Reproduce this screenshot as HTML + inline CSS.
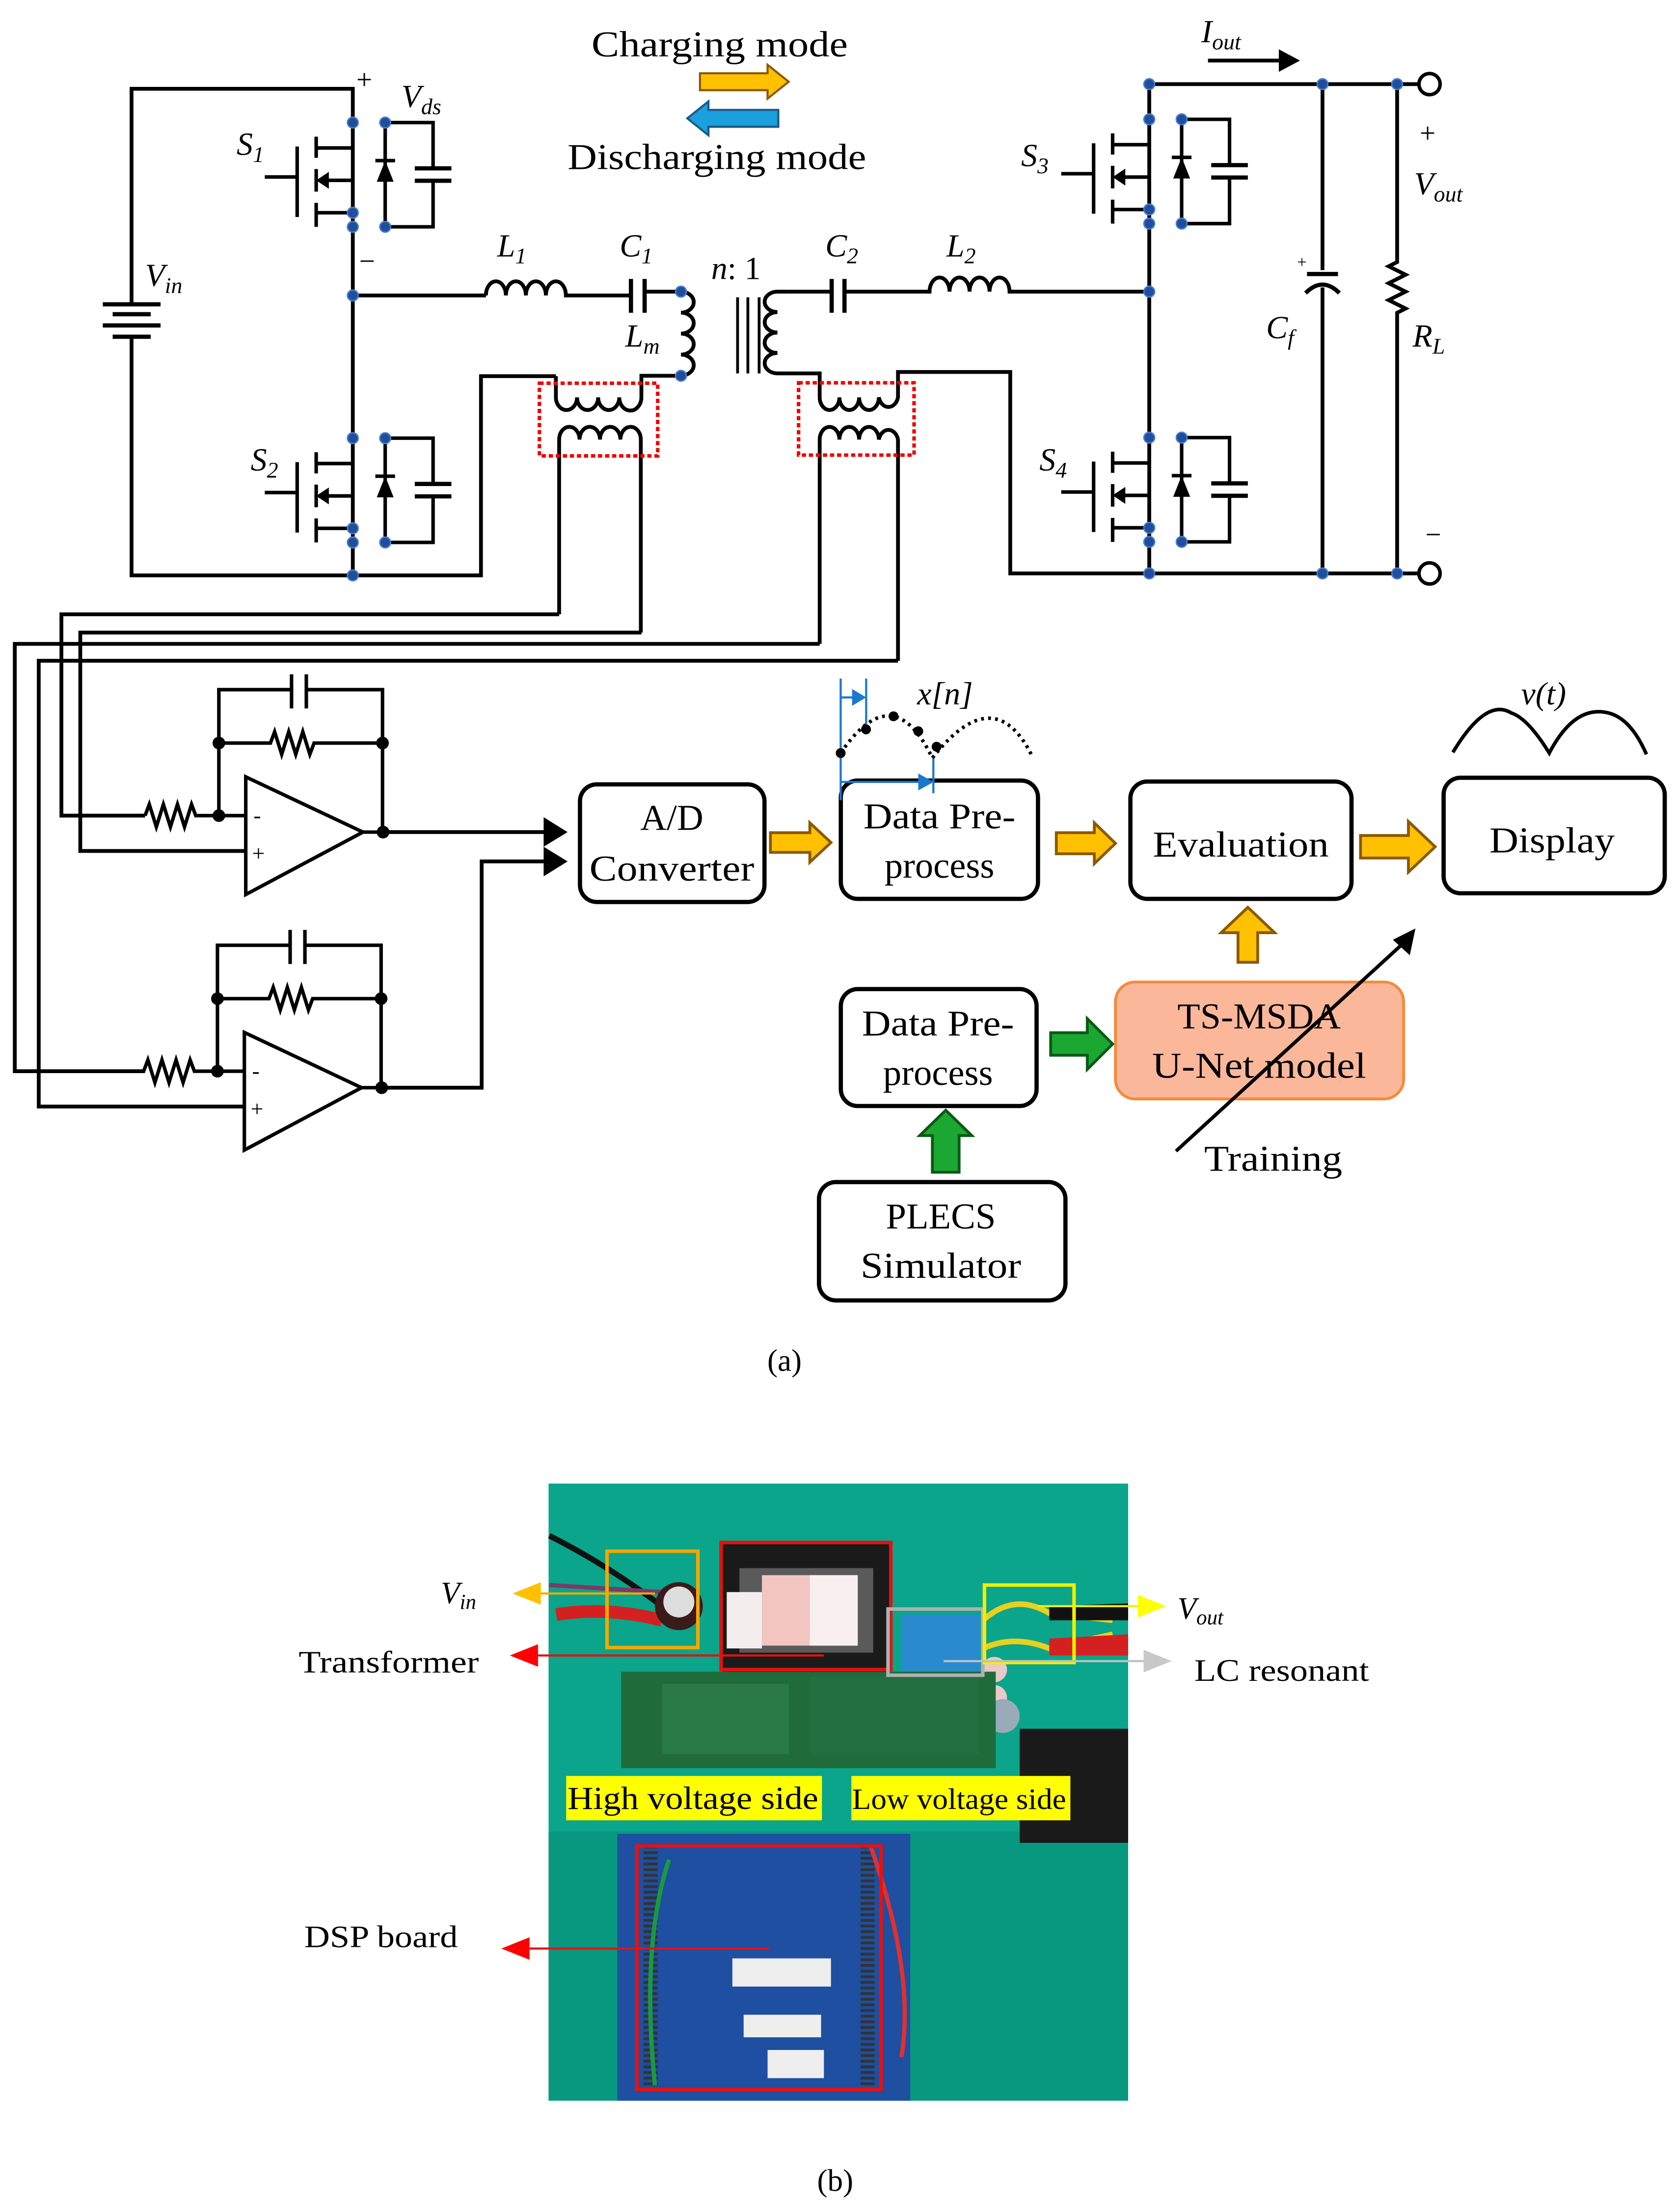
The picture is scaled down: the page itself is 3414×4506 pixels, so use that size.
<!DOCTYPE html>
<html><head><meta charset="utf-8"><style>
html,body{margin:0;padding:0;background:#fff}
svg{display:block}
text{font-family:"Liberation Serif",serif;fill:#000}
</style></head><body>
<svg width="3414" height="4506" viewBox="0 0 1190 1570" preserveAspectRatio="none" xmlns="http://www.w3.org/2000/svg">
<defs>
<g id="sw">
  <path d="M23,0 H57 V32.5 M57,41.3 V74 H23 M23,0 V74" fill="none" stroke="#000" stroke-width="2.5"/>
  <path d="M44,32.5 H70 M44,41.3 H70" stroke="#000" stroke-width="3"/>
  <path d="M17,42 L29,42 L23,27 Z" fill="#000"/>
  <path d="M16,27 H30" stroke="#000" stroke-width="2.5"/>
  <path d="M-26,18 H0 M-26,64 H0 M-20,41 H0 V64 M-39.5,17 V67 M-62.5,38.6 H-39.5 M-26,10 V25 M-26,33 V49 M-26,57 V74" fill="none" stroke="#000" stroke-width="2.5"/>
  <path d="M-26,41 L-17,35 L-17,47 Z" fill="#000"/>
  <g fill="#1f4e9a" stroke="#4a7bd0" stroke-width="1"><circle cx="0" cy="0" r="3.8"/><circle cx="23" cy="0" r="3.8"/><circle cx="0" cy="64" r="3.8"/><circle cx="0" cy="74" r="3.8"/><circle cx="23" cy="74" r="3.8"/></g>
</g>
<g id="opamp">
  <path d="M174.5,551.4 V634.9 L257.7,590.6 Z" fill="none" stroke="#000" stroke-width="2.5"/>
  <path d="M154,578.9 H174.5 M257.7,590.6 H272 M155.4,578.9 V527.4 H192 l3,-8 l5,16 l5,-16 l5,16 l5,-16 l5,16 l3,-8 H271.6 V590.6 M155.4,527.4 V489.5 H207 M217.5,489.5 H271.6 V527.4 M207,478.6 V502.8 M217.5,478.6 V502.8 M103,578.9 l3,-8 l5,16 l5,-16 l5,16 l5,-16 l5,16 l5,-16 l3,8 H154" fill="none" stroke="#000" stroke-width="2.5"/>
  <circle cx="155.4" cy="578.9" r="4.5"/><circle cx="155.4" cy="527.4" r="4.5"/><circle cx="271.6" cy="527.4" r="4.5"/><circle cx="272" cy="590.6" r="4.5"/>
  <text x="180" y="584" font-size="16" font-family="Liberation Sans">-</text>
  <text x="179" y="611" font-size="16" font-family="Liberation Sans">+</text>
</g>
</defs>

<g fill="none" stroke="#000" stroke-width="2.7">
  <path d="M93.4,216 V63 H250.5 V408.4 M93.4,239 V408.4 H341.5 V267 H394.7"/>
  <path d="M250.5,209.7 H345"/>
  <path d="M345,209.7 a7.1,10 0 0 1 14.2,0 a7.1,10 0 0 1 14.2,0 a7.1,10 0 0 1 14.2,0 a7.1,10 0 0 1 14.2,0 H448 M457.7,207 H483.5"/>
  <path d="M448,198 V222 M457.7,198 V222" stroke-width="3"/>
  <path d="M483.5,207 a9,7.4 0 0 1 0,14.9 a9,7.4 0 0 1 0,14.9 a9,7.4 0 0 1 0,14.9 a9,7.4 0 0 1 0,14.9"/>
  <path d="M523.7,211 V265 M531,211 V265 M539,211 V265" stroke-width="2"/>
  <path d="M560,207 H552 a9,7.2 0 0 0 0,14.5 a9,7.2 0 0 0 0,14.5 a9,7.2 0 0 0 0,14.5 a9,7.2 0 0 0 0,14.5 H582 V282"/>
  <path d="M560,207 H590.5 M599.6,207 H660 a7.1,10 0 0 1 14.2,0 a7.1,10 0 0 1 14.2,0 a7.1,10 0 0 1 14.2,0 a7.1,10 0 0 1 14.2,0 H816"/>
  <path d="M590.5,198 V222 M599.6,198 V222" stroke-width="3"/>
  <path d="M394.7,267 V282 a7.5,9 0 0 0 15,0 a7.5,9 0 0 0 15,0 a7.5,9 0 0 0 15,0 a7.5,9 0 0 0 15.7,0 V266.7 H483.5"/>
  <path d="M397,436 V312 a7.2,9 0 0 1 14.5,0 a7.2,9 0 0 1 14.5,0 a7.2,9 0 0 1 14.5,0 a7.2,9 0 0 1 14.5,0 V449"/>
  <path d="M582,282 a7,9 0 0 0 14,0 a7,9 0 0 0 14,0 a7,9 0 0 0 14,0 a7,9 0 0 0 13.6,0 V264 H717.3 V407 H816"/>
  <path d="M582,457 V312 a7,9 0 0 1 14,0 a7,9 0 0 1 14,0 a7,9 0 0 1 14,0 a7,9 0 0 1 13.6,0 V469"/>
  <path d="M816,59.7 V407 M816,59.7 H1008 M816,407 H1008"/>
  <path d="M939,59.7 V191.7 M939,204 V407"/>
  <path d="M928,194.5 H950" stroke-width="3"/>
  <path d="M927,208 Q939,196 951,208" stroke-width="3"/>
  <path d="M992,59.7 V186 l-6,3 l12,6 l-12,6 l12,6 l-12,6 l12,6 l-6,3 V407"/>
  <path d="M857.7,43 H910"/>
  <path d="M397,436 H43.6 V578.9 H103"/>
  <path d="M455.4,449 H57 V604 H174.5"/>
  <path d="M582,457 H10.5 V760.3 H103"/>
  <path d="M637.6,469 H27.5 V785.4 H174.5"/>
  <path d="M272,590.6 H388 M272,772 H342 V611.4 H388"/>
</g>
<g stroke="#000" stroke-width="3">
  <path d="M73,216 H114 M80,223 H107 M73,231 H114 M80,239 H107"/>
</g>
<circle cx="1015" cy="59.7" r="7.5" fill="#fff" stroke="#000" stroke-width="2.5"/>
<circle cx="1015" cy="407" r="7.5" fill="#fff" stroke="#000" stroke-width="2.5"/>
<path d="M908,35 L923,43 L908,51 Z"/>
<rect x="383" y="272" width="84" height="51.6" fill="none" stroke="#e00" stroke-width="2.5" stroke-dasharray="3,2"/>
<rect x="567" y="271.7" width="82" height="51.3" fill="none" stroke="#e00" stroke-width="2.5" stroke-dasharray="3,2"/>
<use href="#sw" transform="translate(250.5,87)"/>
<use href="#sw" transform="translate(250.5,311)"/>
<use href="#sw" transform="translate(816,84.7)"/>
<use href="#sw" transform="translate(816,310.6)"/>
<g fill="#1f4e9a" stroke="#4a7bd0" stroke-width="1">
  <circle cx="250.5" cy="209.7" r="3.8"/><circle cx="250.5" cy="408.4" r="3.8"/>
  <circle cx="483.5" cy="207" r="3.8"/><circle cx="483.5" cy="266.7" r="3.8"/>
  <circle cx="816" cy="207" r="3.8"/><circle cx="816" cy="59.7" r="3.8"/><circle cx="816" cy="407" r="3.8"/>
  <circle cx="939" cy="59.7" r="3.8"/><circle cx="992" cy="59.7" r="3.8"/>
  <circle cx="939" cy="407" r="3.8"/><circle cx="992" cy="407" r="3.8"/>
</g>
<g font-style="italic" font-size="23">
  <text x="103" y="203">V<tspan font-size="16" dy="5">in</tspan></text>
  <text x="168" y="110">S<tspan font-size="16" dy="5">1</tspan></text>
  <text x="178" y="334">S<tspan font-size="16" dy="5">2</tspan></text>
  <text x="725" y="118">S<tspan font-size="16" dy="5">3</tspan></text>
  <text x="738" y="334">S<tspan font-size="16" dy="5">4</tspan></text>
  <text x="285" y="76">V<tspan font-size="16" dy="5">ds</tspan></text>
  <text x="353" y="182">L<tspan font-size="16" dy="5">1</tspan></text>
  <text x="440" y="182">C<tspan font-size="16" dy="5">1</tspan></text>
  <text x="586" y="182">C<tspan font-size="16" dy="5">2</tspan></text>
  <text x="672" y="182">L<tspan font-size="16" dy="5">2</tspan></text>
  <text x="444" y="246">L<tspan font-size="16" dy="5">m</tspan></text>
  <text x="505" y="198">n<tspan font-style="normal">: 1</tspan></text>
  <text x="853" y="30">I<tspan font-size="16" dy="5">out</tspan></text>
  <text x="1004" y="138">V<tspan font-size="16" dy="5">out</tspan></text>
  <text x="899" y="240">C<tspan font-size="16" dy="5">f</tspan></text>
  <text x="1003" y="246">R<tspan font-size="16" dy="5">L</tspan></text>
</g>
<g font-size="20" font-family="Liberation Sans">
  <text x="253" y="63">+</text><text x="255" y="192">−</text>
  <text x="1008" y="101">+</text><text x="1012" y="386">−</text>
  <text x="921" y="190" font-size="12">+</text>
</g>
<text x="420" y="40" font-size="26" textLength="182" lengthAdjust="spacingAndGlyphs">Charging mode</text>
<text x="403" y="120" font-size="26" textLength="212" lengthAdjust="spacingAndGlyphs">Discharging mode</text>
<path d="M497,52 H545 V46 L560,58 L545,70 V64 H497Z" fill="#ffc000" stroke="#8a5a00" stroke-width="1.5"/>
<path d="M552.6,78 H503 V72 L488,84 L503,96 V90 H552.6Z" fill="#1aa0dc" stroke="#1a5a8a" stroke-width="1.5"/>

<use href="#opamp"/>
<use href="#opamp" transform="translate(-1,181.4)"/>
<path d="M386,580 L403,590.6 L386,601 Z M386,601 L403,611.4 L386,622 Z"/>

<g fill="none" stroke="#000" stroke-width="3">
  <rect x="411.8" y="556.7" width="131" height="83.5" rx="12"/>
  <rect x="597" y="554" width="140" height="84" rx="12"/>
  <rect x="802.6" y="554.7" width="157" height="83.3" rx="12"/>
  <rect x="1025" y="552" width="157" height="82" rx="12"/>
  <rect x="597" y="702" width="139" height="83" rx="12"/>
  <rect x="581.5" y="839" width="175" height="84" rx="12"/>
</g>
<rect x="792" y="697" width="204.6" height="83" rx="14" fill="#fbb79a" stroke="#f58a3a" stroke-width="2"/>
<g font-size="26" text-anchor="middle">
  <text x="477" y="589">A/D</text><text x="477" y="625" textLength="117" lengthAdjust="spacingAndGlyphs">Converter</text>
  <text x="667" y="588" textLength="108" lengthAdjust="spacingAndGlyphs">Data Pre-</text><text x="667" y="623">process</text>
  <text x="881" y="608" textLength="125" lengthAdjust="spacingAndGlyphs">Evaluation</text>
  <text x="1102" y="605" textLength="89" lengthAdjust="spacingAndGlyphs">Display</text>
  <text x="666" y="735" textLength="108" lengthAdjust="spacingAndGlyphs">Data Pre-</text><text x="666" y="770">process</text>
  <text x="894" y="730" textLength="116" lengthAdjust="spacingAndGlyphs">TS-MSDA</text><text x="894" y="765" textLength="152" lengthAdjust="spacingAndGlyphs">U-Net model</text>
  <text x="668" y="872">PLECS</text><text x="668" y="907" textLength="114" lengthAdjust="spacingAndGlyphs">Simulator</text>
  <text x="904" y="831" textLength="98" lengthAdjust="spacingAndGlyphs">Training</text>
  <text x="557" y="973" font-size="22">(a)</text>
  <text x="593" y="1555" font-size="22">(b)</text>
</g>
<g fill="#ffc000" stroke="#8a5a00" stroke-width="2">
  <path d="M547,591 H575 V584 L590,598 L575,612 V605 H547Z"/>
  <path d="M750,591 H777 V584 L792,598.6 L777,613 V606 H750Z"/>
  <path d="M966,593 H1000 V583 L1019,601 L1000,619 V609 H966Z"/>
  <path d="M879,683 V662 H867 L886,644 L905,662 H893 V683Z"/>
</g>
<g fill="#1aa832" stroke="#0a5a14" stroke-width="2">
  <path d="M746,733 H772 V723 L790,741 L772,759 V749 H746Z"/>
  <path d="M662,832 V806 H653 L671.5,788 L690,806 H681 V832Z"/>
</g>
<path d="M835,817 L998,668" stroke="#000" stroke-width="2.5"/>
<path d="M1005,659 L1001,678 L989,667 Z"/>
<text x="671" y="500" font-size="23" font-style="italic" text-anchor="middle">x[n]</text>
<g stroke="#1a78d0" stroke-width="1.5" fill="none">
  <path d="M596.9,481.6 V568 M615,481.6 V515 M662.7,537 V563 M596.9,495 H612 M596.9,555 H660"/>
</g>
<path d="M615,495 L605,489 L605,501 Z M663,555 L652,549 L652,561 Z" fill="#1a78d0"/>
<path d="M596.9,534.5 Q634,480 662,538 Q706,482 733,537" fill="none" stroke="#000" stroke-width="2.5" stroke-dasharray="2,3"/>
<g><circle cx="596.9" cy="534.5" r="3.5"/><circle cx="614.9" cy="517.7" r="3.5"/><circle cx="634.4" cy="508.4" r="3.5"/><circle cx="652" cy="519" r="3.5"/><circle cx="665" cy="530" r="3.5"/></g>
<text x="1096" y="500" font-size="23" font-style="italic" text-anchor="middle">v(t)</text>
<path d="M1031.6,534 Q1055,495 1073,506 Q1085,510 1100,534.5 Q1118,500 1142,506 Q1158,510 1169,535.4" fill="none" stroke="#000" stroke-width="2.5"/>

<rect x="389.5" y="1053" width="411.5" height="438" fill="#0aa58a"/>
<rect x="389.5" y="1300" width="411.5" height="191" fill="#079079" opacity="0.6"/>
<path d="M390,1090 Q430,1110 470,1140" stroke="#111" stroke-width="4" fill="none"/>
<path d="M390,1125 L470,1130" stroke="#7a3a6a" stroke-width="3" fill="none"/>
<path d="M395,1146 Q430,1140 470,1150" stroke="#d42020" stroke-width="9" fill="none"/>
<circle cx="482" cy="1140" r="17" fill="#3a1a1a"/><circle cx="482" cy="1137" r="11" fill="#ddd"/>
<rect x="513" y="1096" width="119" height="91" fill="#1a1a1a"/>
<rect x="525" y="1113" width="95" height="60" fill="#5a5a5a"/>
<rect x="541" y="1118" width="68" height="50" fill="#f2c5c0"/>
<rect x="575" y="1118" width="34" height="50" fill="#f8f0f0"/>
<rect x="516" y="1130" width="25" height="40" fill="#f4eded"/>
<rect x="640" y="1146" width="56" height="40" fill="#2a8ad0"/>
<path d="M698,1150 Q720,1130 745,1145 L790,1150 M698,1170 Q720,1160 745,1170 L790,1160" stroke="#e8d020" stroke-width="4" fill="none"/>
<path d="M745,1163 L801,1160 L801,1175 L745,1175Z" fill="#d42020"/>
<path d="M745,1140 L801,1138 L801,1150 L745,1150Z" fill="#111"/>
<circle cx="706" cy="1185" r="9" fill="#e9c9c9"/><circle cx="706" cy="1205" r="9" fill="#e9c9c9"/><circle cx="712" cy="1218" r="12" fill="#9ab"/>
<rect x="441" y="1186.5" width="266" height="68.5" fill="#1f6b3a"/>
<rect x="470" y="1195" width="90" height="50" fill="#2a7a48"/>
<rect x="575" y="1190" width="120" height="55" fill="#246f40"/>
<rect x="724" y="1227" width="77" height="81" fill="#1a1a1a"/>
<rect x="438.3" y="1301.6" width="208" height="189.4" fill="#1e4fa0"/>
<rect x="520" y="1390" width="70" height="20" fill="#eee"/>
<rect x="528" y="1430" width="55" height="16" fill="#eee"/>
<rect x="545" y="1455" width="40" height="20" fill="#eee"/>
<path d="M462,1310 V1480 M616,1310 V1480" stroke="#333" stroke-width="10" stroke-dasharray="2,2"/>
<path d="M475,1320 Q455,1380 465,1480" stroke="#1a9a40" stroke-width="3" fill="none"/>
<path d="M618,1310 Q650,1400 640,1460" stroke="#e03030" stroke-width="3" fill="none"/>
<rect x="402" y="1260.5" width="181.6" height="31.5" fill="#ffff00"/>
<rect x="604.5" y="1260.5" width="155.5" height="31.5" fill="#ffff00"/>
<text x="403" y="1284" font-size="23" textLength="178" lengthAdjust="spacingAndGlyphs">High voltage side</text>
<text x="605" y="1284" font-size="21" font-family="Liberation Sans" textLength="152" lengthAdjust="spacingAndGlyphs">Low voltage side</text>
<g fill="none" stroke-width="2.5">
  <rect x="431" y="1101" width="64.5" height="68.4" stroke="#f5a800"/>
  <rect x="512" y="1094.8" width="120.5" height="90.2" stroke="#e81010"/>
  <rect x="630.5" y="1142" width="67.3" height="47" stroke="#b0b0b0"/>
  <rect x="699" y="1125" width="63.6" height="55" stroke="#f0f000"/>
  <rect x="452.2" y="1310.3" width="173.4" height="172.7" stroke="#e81010"/>
</g>
<path d="M465,1131 H378" stroke="#f5a800" stroke-width="1.5"/><path d="M364,1131 L384,1123 L384,1139Z" fill="#ffc000"/>
<path d="M585,1175 H378" stroke="#e81010" stroke-width="1.5"/><path d="M362,1175 L382,1167 L382,1183Z" fill="#f00"/>
<path d="M546,1383 H372" stroke="#e81010" stroke-width="1.5"/><path d="M356,1383 L376,1375 L376,1391Z" fill="#f00"/>
<path d="M737,1140 H815" stroke="#f0f000" stroke-width="1.5"/><path d="M828,1140 L808,1132 L808,1148Z" fill="#ffff00"/>
<path d="M670,1179 H818" stroke="#c0c0c0" stroke-width="1.5"/><path d="M832,1179 L812,1171 L812,1187Z" fill="#c8c8c8"/>
<g font-size="22">
  <text x="313" y="1138" font-style="italic">V<tspan font-size="15" dy="4">in</tspan></text>
  <text x="212" y="1187" textLength="128" lengthAdjust="spacingAndGlyphs">Transformer</text>
  <text x="216" y="1382" textLength="109" lengthAdjust="spacingAndGlyphs">DSP board</text>
  <text x="836" y="1149" font-style="italic">V<tspan font-size="15" dy="4">out</tspan></text>
  <text x="848" y="1193" textLength="124" lengthAdjust="spacingAndGlyphs">LC resonant</text>
</g>
</svg>
</body></html>
